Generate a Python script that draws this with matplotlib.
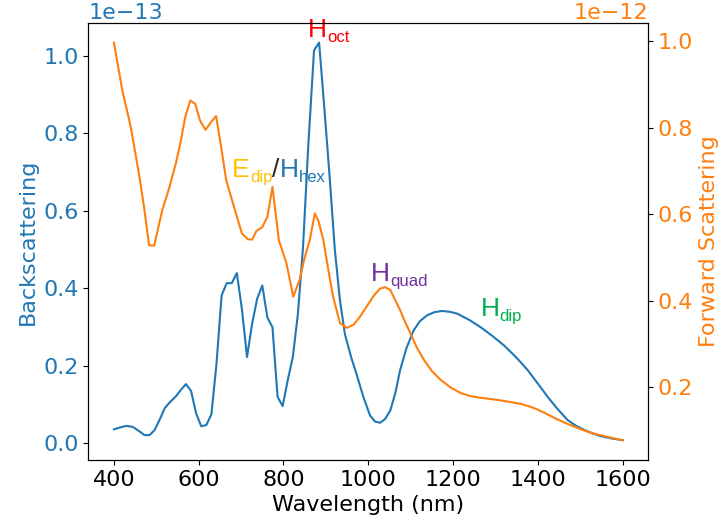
import matplotlib
matplotlib.use('Agg')
import matplotlib.pyplot as plt
import numpy as np

# ------------------ Data ------------------
wl_back = [400, 415, 430, 445, 460, 472, 484, 496, 508, 520, 532, 546, 558, 570,
           582, 594, 606, 618, 630, 642, 654, 666, 678, 690, 702, 714, 726, 738,
           750, 762, 774, 786, 798, 810, 822, 834, 846, 858, 872, 884, 896, 908,
           921, 933, 945, 960, 973, 988, 1004, 1016, 1028, 1040, 1052, 1064, 1075,
           1090, 1107, 1122, 1139, 1156, 1174, 1192, 1210, 1238, 1265, 1292, 1320,
           1348, 1376, 1400, 1423, 1446, 1470, 1490, 1510, 1530, 1549, 1575, 1600]
back = [0.035, 0.040, 0.044, 0.041, 0.030, 0.020, 0.020, 0.033, 0.060, 0.090, 0.105,
        0.120, 0.137, 0.152, 0.134, 0.076, 0.043, 0.046, 0.074, 0.205, 0.381, 0.413,
        0.413, 0.439, 0.345, 0.222, 0.308, 0.373, 0.407, 0.324, 0.299, 0.119, 0.095,
        0.162, 0.222, 0.334, 0.505, 0.760, 1.015, 1.035, 0.870, 0.700, 0.500, 0.370,
        0.280, 0.220, 0.175, 0.120, 0.071, 0.055, 0.052, 0.062, 0.084, 0.130, 0.188,
        0.245, 0.291, 0.315, 0.330, 0.338, 0.341, 0.339, 0.334, 0.318, 0.299, 0.277,
        0.252, 0.222, 0.188, 0.153, 0.119, 0.088, 0.059, 0.044, 0.033, 0.024, 0.017,
        0.011, 0.007]

wl_fwd = [400, 420, 440, 459, 471, 483, 495, 514, 530, 546, 558, 568, 580, 592, 603,
          616, 629, 641, 653, 665, 682, 702, 716, 726, 736, 750, 762, 774, 789, 807,
          823, 838, 850, 862, 874, 883, 894, 905, 917, 933, 949, 965, 980, 996, 1012,
          1028, 1040, 1052, 1064, 1075, 1087, 1099, 1115, 1131, 1150, 1170, 1194, 1218,
          1240, 1265, 1290, 1312, 1336, 1360, 1380, 1399, 1422, 1446, 1474, 1502, 1525,
          1549, 1575, 1600]
fwd = [0.997, 0.886, 0.801, 0.694, 0.617, 0.528, 0.527, 0.609, 0.659, 0.717, 0.770,
       0.824, 0.863, 0.855, 0.817, 0.795, 0.813, 0.827, 0.755, 0.678, 0.621, 0.555,
       0.542, 0.541, 0.561, 0.570, 0.594, 0.663, 0.540, 0.486, 0.409, 0.448, 0.500,
       0.540, 0.602, 0.582, 0.540, 0.475, 0.409, 0.348, 0.337, 0.344, 0.362, 0.386,
       0.410, 0.428, 0.431, 0.424, 0.400, 0.378, 0.350, 0.325, 0.290, 0.263, 0.237,
       0.217, 0.199, 0.186, 0.179, 0.175, 0.172, 0.169, 0.165, 0.161, 0.155, 0.148,
       0.137, 0.125, 0.113, 0.102, 0.094, 0.088, 0.082, 0.077]

back_scale = 1e-13
fwd_scale = 1e-12

# ------------------ Style ------------------
plt.rcParams['font.size'] = 16
c_back = '#1f77b4'
c_fwd = '#ff7f0e'
ann_font = 'Liberation Sans'
main_size = 19
sub_size = 12

# ------------------ Figure ------------------
fig, ax = plt.subplots(figsize=(7.25, 5.29), dpi=100)
fig.subplots_adjust(left=0.122, right=0.894, bottom=0.1304, top=0.957)

ax.plot(wl_back, np.array(back) * back_scale, color=c_back, lw=1.5)
ax.set_xlabel('Wavelength (nm)')
ax.set_ylabel('Backscattering', color=c_back)
ax.tick_params(axis='y', labelcolor=c_back)
ax.yaxis.get_offset_text().set_color(c_back)
ax.set_xticks([400, 600, 800, 1000, 1200, 1400, 1600])

ax2 = ax.twinx()
ax2.plot(wl_fwd, np.array(fwd) * fwd_scale, color=c_fwd, lw=1.5)
ax2.set_ylabel('Forward Scattering', color=c_fwd)
ax2.tick_params(axis='y', labelcolor=c_fwd)
ax2.yaxis.get_offset_text().set_color(c_fwd)


# ------------------ Mode labels ------------------
def mode_label(pieces, x, y):
    """pieces: list of (text, color, is_sub); chained left to right on one baseline."""
    prev = None
    for txt, col, sub in pieces:
        size = sub_size if sub else main_size
        dy = -3.5 if sub else 0
        if prev is None:
            prev = ax.text(x, y * back_scale, txt, color=col, fontsize=size,
                           family=ann_font, ha='left', va='baseline')
        else:
            prev = ax.annotate(txt, xy=(1, y * back_scale), xycoords=(prev, 'data'),
                               xytext=(0, dy), textcoords='offset points',
                               color=col, fontsize=size, family=ann_font,
                               ha='left', va='baseline')


mode_label([('H', '#ff0000', False), ('oct', '#ff0000', True)], 858, 1.05)
mode_label([('E', '#ffc000', False), ('dip', '#ffc000', True),
            ('/', '#262626', False),
            ('H', '#1f77b4', False), ('hex', '#1f77b4', True)], 679, 0.688)
mode_label([('H', '#7030a0', False), ('quad', '#7030a0', True)], 1006, 0.418)
mode_label([('H', '#00b050', False), ('dip', '#00b050', True)], 1265, 0.327)

fig.savefig('out.png', dpi=100)
